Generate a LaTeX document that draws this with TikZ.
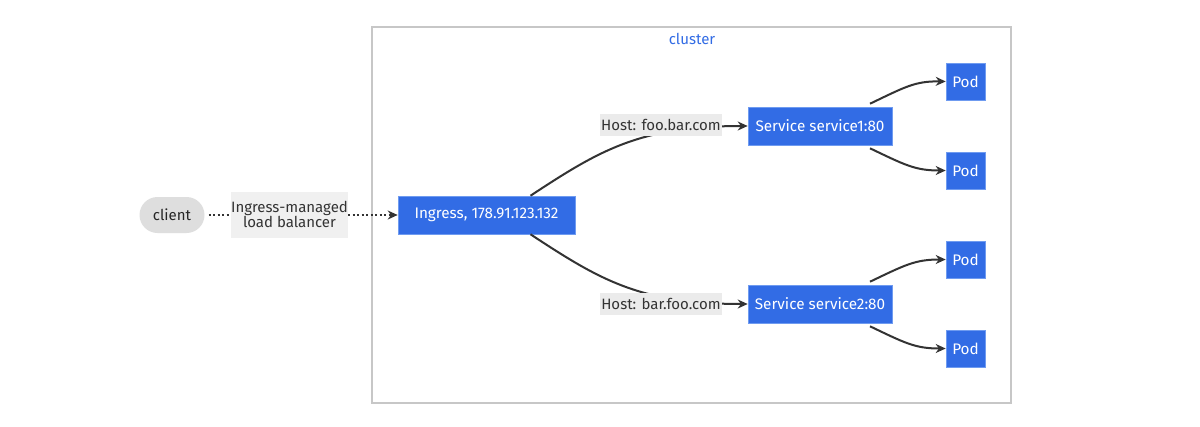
\documentclass[tikz,border=0pt]{standalone}
\usepackage{fontspec}
\setmainfont{Fira Sans}
\usetikzlibrary{arrows.meta}
\definecolor{kblue}{HTML}{326CE5}
\definecolor{kborder}{HTML}{6F9BF0}
\definecolor{edge}{HTML}{333333}
\definecolor{lblbg}{HTML}{EBEBEB}
\tikzset{
  kbox/.style={draw=kborder, fill=kblue, text=white, font=\fontsize{15.3}{17}\selectfont, inner sep=0pt, minimum height=38pt, line width=0.6pt},
  elabel/.style={fill=lblbg, text=black!80, font=\fontsize{15}{17}\selectfont, inner sep=1pt, align=center},
  conn/.style={draw=edge, line width=2pt, -{Stealth[length=10pt,width=9pt]}},
}
\begin{document}
\begin{tikzpicture}[x=1pt,y=-1pt]
\useasboundingbox (0,0) rectangle (1200,426);
\fill[white] (0,0) rectangle (1200,426);
\node[draw=black!22, line width=1.8pt, minimum width=639pt, minimum height=376pt, inner sep=0pt] (cluster) at (691.5,215) {};
\node[text=kblue, font=\fontsize{15}{17}\selectfont] (ctitle) at (692,39) {cluster};
\node[fill=black!13, rounded corners=18pt, minimum width=65pt, minimum height=36pt, inner sep=0pt, font=\fontsize{15}{17}\selectfont, text=black!85] (client) at (172,215) {client};
\node[kbox, minimum width=177pt] (ingress) at (486.5,215) {Ingress, 178.91.123.132};
\node[kbox, minimum width=144pt] (s1) at (820,126) {Service service1:80};
\node[kbox, minimum width=144pt] (s2) at (820,304) {Service service2:80};
\node[kbox, minimum width=39pt, minimum height=37pt] (p1) at (965.5,81.5) {Pod};
\node[kbox, minimum width=39pt, minimum height=37pt] (p2) at (965.5,170.5) {Pod};
\node[kbox, minimum width=39pt, minimum height=37pt] (p3) at (965.5,259.5) {Pod};
\node[kbox, minimum width=39pt, minimum height=37pt] (p4) at (965.5,348.5) {Pod};
% client -> ingress
\draw[conn, line width=2.2pt, dash pattern=on 2pt off 2.5pt] (client.east) ++(4,0) coordinate (cstart) -- (ingress.west);
\node[fill=black!6, minimum width=117pt, minimum height=46pt, inner sep=0pt] (lbbg) at (289.5,215) {};
\node[fill=black!6, text=black!80, font=\fontsize{15}{17}\selectfont, align=center, inner sep=0pt] (lb) at (289.5,214) {Ingress-managed\\[-2pt]load balancer};
% ingress -> services
\coordinate (i1) at ([xshift=44pt]ingress.north);
\coordinate (i2) at ([xshift=44pt]ingress.south);
\draw[conn] (i1) .. controls (600,150) and (640,126) .. (s1.west);
\draw[conn] (i2) .. controls (600,280) and (640,304) .. (s2.west);
\node[elabel, minimum width=122pt, minimum height=22pt, inner sep=0pt] (h1) at (661,125) {Host: foo.bar.com};
\node[elabel, minimum width=122pt, minimum height=22pt, inner sep=0pt] (h2) at (661,304) {Host: bar.foo.com};
% services -> pods
\coordinate (a1) at ([xshift=50pt,yshift=3pt]s1.north);
\coordinate (a2) at ([xshift=50pt,yshift=-3pt]s1.south);
\coordinate (a3) at ([xshift=50pt,yshift=3pt]s2.north);
\coordinate (a4) at ([xshift=50pt,yshift=-3pt]s2.south);
\draw[conn] (a1) .. controls (905,87) and (915,81) .. (p1.west);
\draw[conn] (a2) .. controls (905,165) and (915,170.5) .. (p2.west);
\draw[conn] (a3) .. controls (905,265) and (915,259.5) .. (p3.west);
\draw[conn] (a4) .. controls (905,343) and (915,348.5) .. (p4.west);
\end{tikzpicture}
\end{document}
